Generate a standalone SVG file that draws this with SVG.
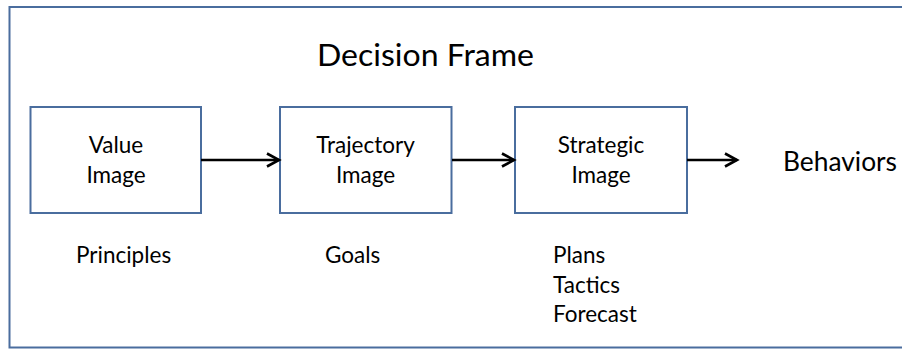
<svg xmlns="http://www.w3.org/2000/svg" width="902" height="349" viewBox="0 0 902 349">
  <defs>
    <marker id="open-arrow" markerUnits="userSpaceOnUse" markerWidth="16" markerHeight="18" refX="13" refY="8" orient="auto">
      <path d="M1,1.5 L13,8 L1,14.5" fill="none" stroke="#000" stroke-width="2.6" stroke-linejoin="miter"/>
    </marker>
  </defs>
  <style>
    .frame { fill: #fff; stroke: #4a6d9e; stroke-width: 2; }
    .box { fill: #fff; stroke: #4a6d9e; stroke-width: 2; }
    .lbl { font-family: Lato, "Open Sans", sans-serif; font-size: 22.5px; fill: #000; }
    .mid { text-anchor: middle; }
    .big { font-family: Lato, "Open Sans", sans-serif; fill: #000; }
    .conn { stroke: #000; stroke-width: 2.6; fill: none; marker-end: url(#open-arrow); }
  </style>

  <!-- surrounding frame (open on the right edge) -->
  <rect class="frame" x="9.5" y="7" width="905" height="340.5"/>

  <text id="title" class="big" x="317" y="66" font-size="30.5" textLength="217" lengthAdjust="spacingAndGlyphs">Decision Frame</text>

  <g id="value-image">
    <rect class="box" x="30.5" y="107" width="170.5" height="106"/>
    <text class="lbl mid" x="116" y="153">Value</text>
    <text class="lbl mid" x="116" y="183">Image</text>
    <text class="lbl" x="76" y="263">Principles</text>
  </g>

  <g id="trajectory-image">
    <rect class="box" x="280" y="107" width="171.5" height="106"/>
    <text class="lbl mid" x="365.5" y="153">Trajectory</text>
    <text class="lbl mid" x="365.5" y="183">Image</text>
    <text class="lbl" x="325" y="263">Goals</text>
  </g>

  <g id="strategic-image">
    <rect class="box" x="515" y="107" width="172" height="106"/>
    <text class="lbl mid" x="601" y="153">Strategic</text>
    <text class="lbl mid" x="601" y="183">Image</text>
    <text class="lbl" x="553" y="263">Plans</text>
    <text class="lbl" x="553" y="292.5">Tactics</text>
    <text class="lbl" x="553" y="322">Forecast</text>
  </g>

  <g id="behaviors">
    <text class="big" x="783" y="171" font-size="27" textLength="114" lengthAdjust="spacingAndGlyphs">Behaviors</text>
  </g>

  <g id="connectors">
    <line class="conn" x1="201" y1="160" x2="279" y2="160"/>
    <line class="conn" x1="452" y1="160" x2="514" y2="160"/>
    <line class="conn" x1="687" y1="160" x2="737" y2="160"/>
  </g>
</svg>
